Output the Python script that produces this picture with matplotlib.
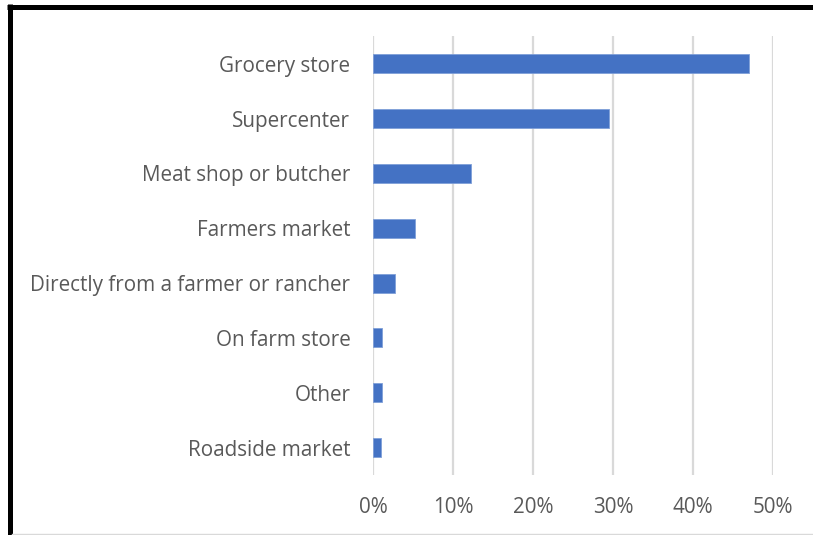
import matplotlib
matplotlib.use("Agg")
import matplotlib.pyplot as plt
from matplotlib.lines import Line2D
from matplotlib.ticker import FuncFormatter

categories = [
    "Grocery store",
    "Supercenter",
    "Meat shop or butcher",
    "Farmers market",
    "Directly from a farmer or rancher",
    "On farm store",
    "Other",
    "Roadside market",
]
shares = [0.470, 0.294, 0.1225, 0.0525, 0.0275, 0.011, 0.011, 0.0095]
x_ticks = [0.0, 0.1, 0.2, 0.3, 0.4, 0.5]

W, H = 813, 535
fig = plt.figure(figsize=(W / 100, H / 100), dpi=100)
fig.patch.set_facecolor("white")

ax = fig.add_axes([373.3 / W, 1 - 475 / H, (773.3 - 373.3) / W, (475 - 36.3) / H])

text_color = "#595959"
grid_color = "#D9D9D9"
font = "Open Sans"

ypos = list(range(len(categories)))
ax.barh(ypos, shares, height=0.345, color="#4472C4",
        edgecolor="#7F9FD8", linewidth=0.6, zorder=3)

ax.set_xlim(0, 0.5)
ax.set_ylim(len(categories) - 0.5, -0.5)
ax.set_xticks(x_ticks)
ax.xaxis.set_major_formatter(FuncFormatter(lambda v, _: f"{v * 100:.0f}%"))
ax.set_yticks(ypos)
ax.set_yticklabels(categories)

ax.grid(axis="x", color=grid_color, linewidth=1.6, zorder=0)
ax.grid(axis="y", visible=False)
for s in ax.spines.values():
    s.set_visible(False)

ax.tick_params(axis="both", length=0, labelsize=14.9, labelcolor=text_color)
ax.tick_params(axis="y", pad=16.5)
ax.tick_params(axis="x", pad=15.5)
for lbl in ax.get_xticklabels() + ax.get_yticklabels():
    lbl.set_fontfamily(font)

# frame around the chart: thick black top and left, thin grey bottom
fig.add_artist(Line2D([7 / W, 1.0], [1 - 6.5 / H, 1 - 6.5 / H],
                      transform=fig.transFigure, color="black", linewidth=3.6,
                      solid_capstyle="butt"))
fig.add_artist(Line2D([9.5 / W, 9.5 / W], [1 - 4 / H, 0.0],
                      transform=fig.transFigure, color="black", linewidth=3.6,
                      solid_capstyle="butt"))
fig.add_artist(Line2D([12 / W, 1.0], [1 - 534 / H, 1 - 534 / H],
                      transform=fig.transFigure, color="#D9D9D9", linewidth=1.0))

fig.savefig("out.png", dpi=100)
